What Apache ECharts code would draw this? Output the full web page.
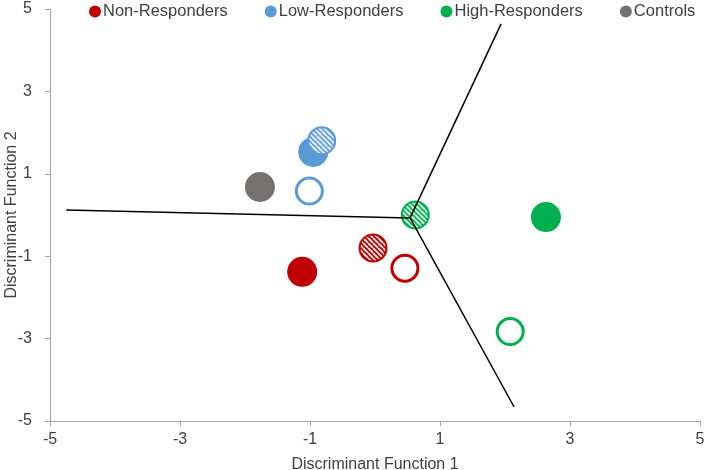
<!DOCTYPE html>
<html><head><meta charset="utf-8">
<script src="https://cdn.jsdelivr.net/npm/echarts@6/dist/echarts.min.js"></script>
<style>html,body{margin:0;padding:0;background:#fff}#c{width:706px;height:470px}</style>
</head><body><div id="c"></div>
<script>
// Data
const groups = ['Non-Responders', 'Low-Responders', 'High-Responders', 'Controls'];
const colors = ['#C00000', '#5B9BD5', '#00B050', '#767171'];
// points: [x, y, style]  style: filled | open | hatched
const nonResponders = [[-1.12, -1.38, 'filled'], [0.46, -1.29, 'open'], [-0.03, -0.80, 'hatched']];
const lowResponders = [[-0.95, 1.53, 'filled'], [-1.01, 0.58, 'open'], [-0.82, 1.80, 'hatched']];
const highResponders = [[2.63, -0.05, 'filled'], [2.08, -2.83, 'open'], [0.62, 0.00, 'hatched']];
const controls = [[-1.77, 0.68, 'filled']];
const groupData = [nonResponders, lowResponders, highResponders, controls];
// territory boundary lines
const lineCenter = [0.54, -0.07];
const lineEnds = [[-4.75, 0.12], [1.94, 4.64], [2.14, -4.66]];
const xTicks = [-5, -3, -1, 1, 3, 5];
const yTicks = [-5, -3, -1, 1, 3, 5];

function hatch(color, size) {
  const s = 5;
  const c = document.createElement('canvas');
  c.width = s; c.height = s;
  const g = c.getContext('2d');
  g.fillStyle = color; g.fillRect(0, 0, s, s);
  g.strokeStyle = '#ffffff'; g.lineWidth = 1.7;
  for (const k of [-s, 0, s]) {
    g.beginPath(); g.moveTo(k, 0); g.lineTo(k + s, s); g.stroke();
  }
  const sc = 2 / size;
  return { image: c, repeat: 'repeat', scaleX: sc, scaleY: sc };
}

const series = groups.map((name, i) => ({
  name: name,
  type: 'scatter',
  z: 2,
  itemStyle: { color: colors[i], opacity: 1 },
  data: groupData[i].map(p => {
    let st, size;
    if (p[2] === 'filled') { size = 30; st = { color: colors[i], borderWidth: 0, opacity: 1 }; }
    else if (p[2] === 'open') { size = 26; st = { color: '#ffffff', borderColor: colors[i], borderWidth: 3, opacity: 1 }; }
    else { size = 27; st = { color: hatch(colors[i], size), borderColor: colors[i], borderWidth: 2, opacity: 1 }; }
    return { value: [p[0], p[1]], symbolSize: size, itemStyle: st };
  }),
  emphasis: { disabled: true },
  animation: false
}));

lineEnds.forEach(e => {
  series.push({
    type: 'line', z: 5, symbol: 'none', silent: true, animation: false,
    lineStyle: { color: '#000000', width: 1.5 },
    data: [e, lineCenter]
  });
});

const axisCommon = {
  type: 'value', min: -5, max: 5, interval: 2,
  splitLine: { show: false },
  axisLine: { show: true, onZero: false, lineStyle: { color: '#a6a6a6', width: 1 } },
  axisTick: { show: true, length: 5, lineStyle: { color: '#a6a6a6' } },
  nameLocation: 'middle',
  nameMoveOverlap: false,
  nameTextStyle: { fontFamily: 'Liberation Sans', fontSize: 16, color: '#404040' }
};

const chart = echarts.init(document.getElementById('c'), null, { renderer: 'canvas' });
chart.setOption({
  animation: false,
  textStyle: { fontFamily: 'Liberation Sans' },
  grid: { left: 50, right: 6, top: 9, bottom: 49, containLabel: false, outerBoundsMode: 'none' },
  legend: {
    left: 84, top: -2, itemWidth: 12, itemHeight: 12, itemGap: 37, icon: 'circle',
    textStyle: { fontFamily: 'Liberation Sans', fontSize: 16.5, color: '#404040', padding: [0, 0, 0, -3] },
    data: groups
  },
  xAxis: Object.assign({}, axisCommon, {
    name: 'Discriminant Function 1', nameGap: 36,
    axisLabel: { fontSize: 16, color: '#404040', margin: 11, formatter: v => xTicks.includes(v) ? String(v) : '' }
  }),
  yAxis: Object.assign({}, axisCommon, {
    name: 'Discriminant Function 2', nameGap: 30,
    axisLabel: { fontSize: 16, color: '#404040', margin: 18, formatter: v => yTicks.includes(v) ? String(v) : '' }
  }),
  series: series
});
</script></body></html>
